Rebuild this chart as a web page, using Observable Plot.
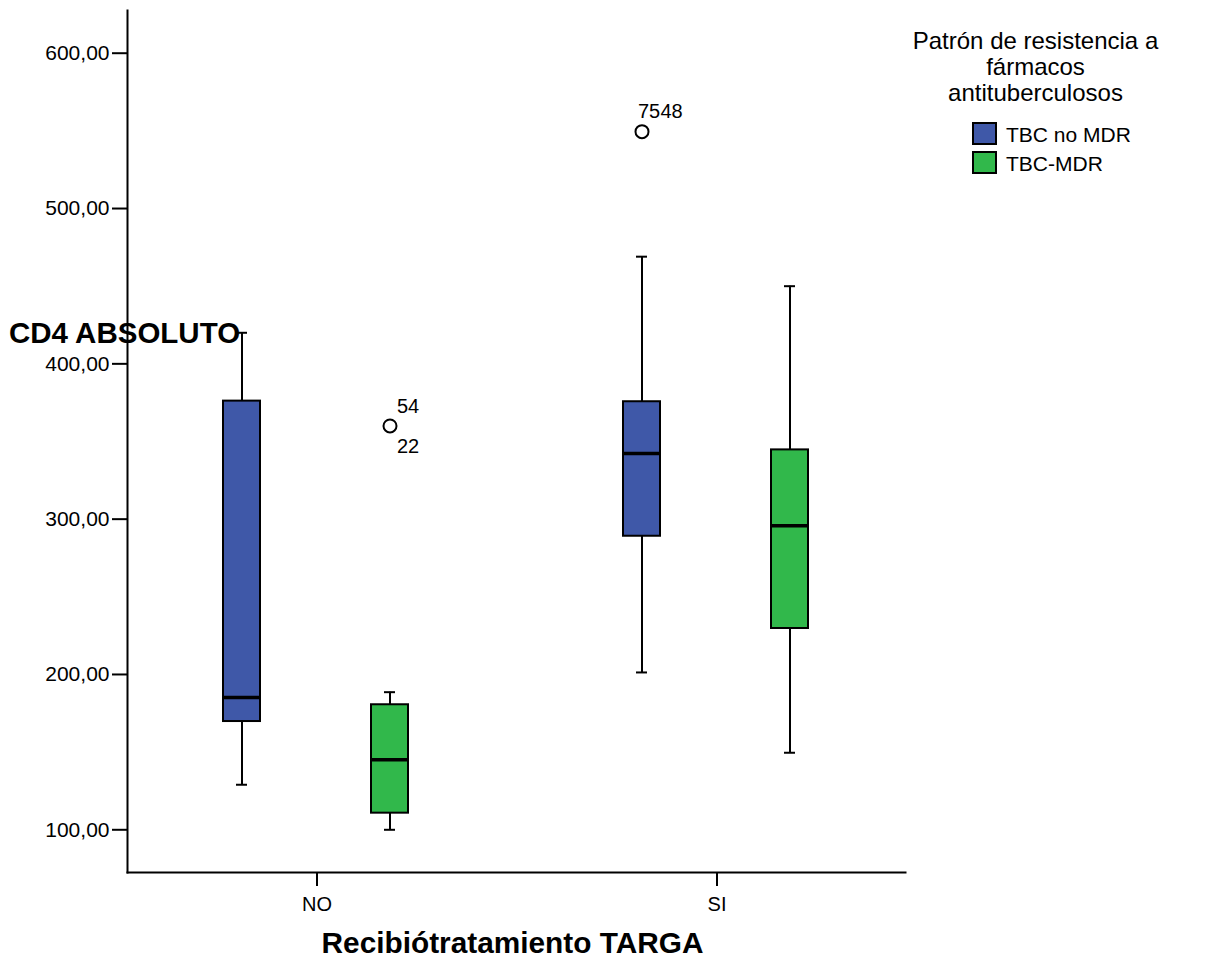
<!DOCTYPE html>
<html>
<head>
<meta charset="utf-8">
<script src="https://cdn.jsdelivr.net/npm/d3@7"></script>
<script src="https://cdn.jsdelivr.net/npm/@observablehq/plot@0.6"></script>
<style>
  body { margin: 0; background: #fff; font-family: "Liberation Sans", Arial, sans-serif; }
  #wrap { position: relative; width: 1208px; height: 962px; overflow: hidden; }
  #chart svg { display: block; }
  .abs { position: absolute; line-height: 1; color: #000; white-space: nowrap; }
  #ylabel { left: 9px; top: 318px; font-size: 29.5px; font-weight: bold; }
  #xlabel { left: 0; width: 1025px; text-align: center; top: 928px; font-size: 29.8px; font-weight: bold; }
  #legend { left: 900px; width: 271px; top: 28px; }
  #legend .title { text-align: center; font-size: 24px; line-height: 26px; }
  #legend .item { position: absolute; left: 72px; height: 24px; }
  #legend .sw { position: absolute; left: 0; top: 0; width: 21px; height: 19px; border: 2px solid #000; }
  #legend .lab { position: absolute; left: 34px; top: 2px; font-size: 21px; line-height: 1; }
</style>
</head>
<body>
<div id="wrap">
  <div id="chart"></div>
  <div id="ylabel" class="abs"></div>
  <div id="xlabel" class="abs"></div>
  <div id="legend" class="abs"></div>
</div>
<script>
// ---- data ----
const groups = ["NO", "SI"];
const series = ["TBC no MDR", "TBC-MDR"];
const seriesColors = ["#3f58a8", "#31b84b"];
const yTicks = [100, 200, 300, 400, 500, 600];

const boxGroup = ["NO", "NO", "SI", "SI"];
const boxSeries = ["TBC no MDR", "TBC-MDR", "TBC no MDR", "TBC-MDR"];
const whiskerLow = [129, 100, 201.3, 149.6];
const q1 = [169.7, 110.7, 289, 229.6];
const median = [185.2, 145.1, 342.3, 295.7];
const q3 = [376, 180.5, 375.6, 344.6];
const whiskerHigh = [420, 188.6, 469, 450];

const outlierGroup = ["NO", "SI"];
const outlierSeries = ["TBC-MDR", "TBC no MDR"];
const outlierValue = [360, 549.5];
const outlierIdA = ["54", "75"];
const outlierIdB = ["22", "48"];

const yTitle = "CD4 ABSOLUTO";
const xTitle = "Recibiótratamiento TARGA";
const legendTitle = ["Patrón de resistencia a", "fármacos", "antituberculosos"];

// ---- chart ----
const font = "'Liberation Sans', Arial, sans-serif";
const seriesDx = [-75, 73];
const marks = [];

// axis lines (SPSS-style L frame)
marks.push(
  Plot.frame({anchor: "left", stroke: "#000", strokeWidth: 2}),
  Plot.frame({anchor: "bottom", stroke: "#000", strokeWidth: 2})
);

series.forEach((s, si) => {
  const idx = d3.range(boxGroup.length).filter(i => boxSeries[i] === s);
  const dx = seriesDx[si];
  const X = i => boxGroup[i];
  marks.push(
    Plot.ruleX(idx, {x: X, y1: i => whiskerLow[i], y2: i => whiskerHigh[i], dx, stroke: "#000", strokeWidth: 2}),
    Plot.tickY(idx, {x: X, y: i => whiskerLow[i], dx, insetLeft: 13, insetRight: 13, stroke: "#000", strokeWidth: 2}),
    Plot.tickY(idx, {x: X, y: i => whiskerHigh[i], dx, insetLeft: 13, insetRight: 13, stroke: "#000", strokeWidth: 2}),
    Plot.barY(idx, {x: X, y1: i => q1[i], y2: i => q3[i], dx, fill: seriesColors[si], stroke: "#000", strokeWidth: 2}),
    Plot.tickY(idx, {x: X, y: i => median[i], dx, insetLeft: -1, insetRight: -1, stroke: "#000", strokeWidth: 3.5})
  );
  const oidx = d3.range(outlierGroup.length).filter(i => outlierSeries[i] === s);
  marks.push(
    Plot.dot(oidx, {x: i => outlierGroup[i], y: i => outlierValue[i], dx, r: 6.5, fill: "#fff", stroke: "#000", strokeWidth: 2})
  );
});

// outlier labels (SPSS-style placement)
const oNo = [0], oSi = [1];
const lblStyle = {fontSize: 20, fontFamily: font, fill: "#000", textAnchor: "start"};
marks.push(
  Plot.text(oNo, {x: i => outlierGroup[i], y: i => outlierValue[i], text: i => outlierIdA[i], dx: seriesDx[1] + 7, dy: -19, ...lblStyle}),
  Plot.text(oNo, {x: i => outlierGroup[i], y: i => outlierValue[i], text: i => outlierIdB[i], dx: seriesDx[1] + 7, dy: 21, ...lblStyle}),
  Plot.text(oSi, {x: i => outlierGroup[i], y: i => outlierValue[i], text: i => outlierIdA[i], dx: seriesDx[0] - 4, dy: -20.5, ...lblStyle}),
  Plot.text(oSi, {x: i => outlierGroup[i], y: i => outlierValue[i], text: i => outlierIdB[i], dx: seriesDx[0] + 18.5, dy: -20.5, ...lblStyle})
);

marks.push(
  Plot.axisY({ticks: yTicks, tickFormat: d => d.toFixed(2).replace(".", ","), tickSize: 15, tickPadding: 3,
              fontSize: 21, fontFamily: font, strokeWidth: 2, label: null}),
  Plot.axisX({tickSize: 14, tickPadding: 10, fontSize: 20, fontFamily: font, strokeWidth: 2, label: null})
);

const chart = Plot.plot({
  width: 1208,
  height: 962,
  marginLeft: 127,
  marginRight: 303,
  marginTop: 10,
  marginBottom: 90,
  style: {fontFamily: font, color: "#000", background: "#fff"},
  x: {type: "band", domain: groups, paddingInner: 0.9075, paddingOuter: 0.42625},
  y: {domain: [72.5, 627.5]},
  marks
});
document.getElementById("chart").append(chart);

// titles
document.getElementById("ylabel").textContent = yTitle;
document.getElementById("xlabel").textContent = xTitle;

// legend
const leg = document.getElementById("legend");
const t = document.createElement("div");
t.className = "title";
t.innerHTML = legendTitle.map(s => `<div>${s}</div>`).join("");
leg.append(t);
series.forEach((s, i) => {
  const it = document.createElement("div");
  it.className = "item";
  it.style.top = (94 + i * 29) + "px";
  it.innerHTML = `<div class="sw" style="background:${seriesColors[i]}"></div><div class="lab">${s}</div>`;
  leg.append(it);
});
</script>
</body>
</html>
